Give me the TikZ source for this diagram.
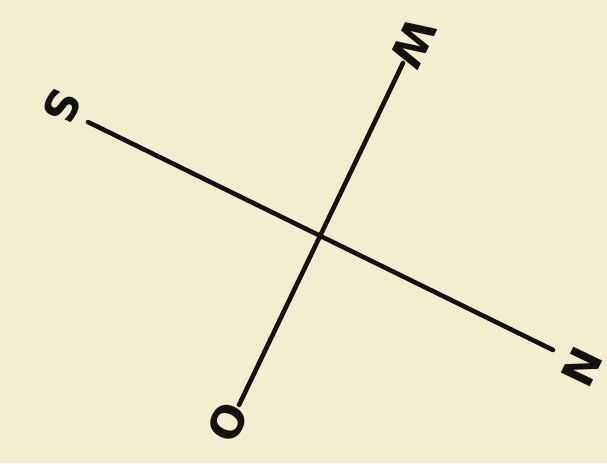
\documentclass[tikz,border=0pt]{standalone}
\usepackage{fontspec}
\setsansfont{DejaVu Sans}
\definecolor{paper}{HTML}{F3EDCF}
\definecolor{ink}{HTML}{141210}

\begin{document}
\begin{tikzpicture}[x=0.02cm,y=-0.02cm,line cap=round,
  letter/.style={font=\sffamily\bfseries\fontsize{25}{25}\selectfont,text=ink,rotate=-115.7,inner sep=0pt}]
\fill[paper] (0,0) rectangle (607,463);
\useasboundingbox (0,0) rectangle (607,463);
\coordinate (s) at (88,122);
\coordinate (n) at (553,350);
\coordinate (w) at (403,63);
\coordinate (o) at (239,405);
\draw[ink,line width=2.6pt] (s)--(n);
\draw[ink,line width=2.6pt] (w)--(o);
\node[letter] (S) at (62,107) {S};
\node[letter] (W) at (413,43) {W};
\node[letter] (N) at (582,367) {N};
\node[letter] (O) at (228,422) {O};
\end{tikzpicture}
\end{document}
